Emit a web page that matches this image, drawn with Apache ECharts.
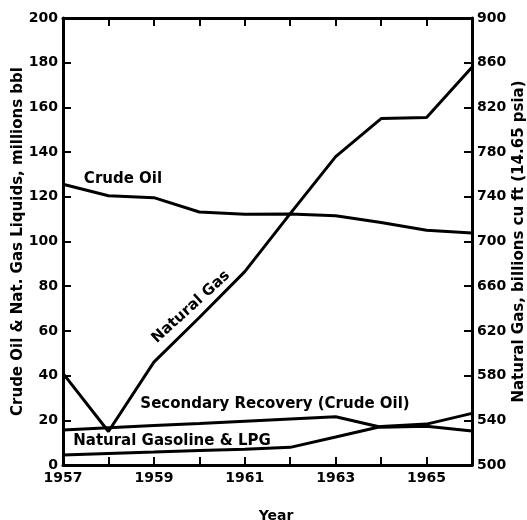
<!DOCTYPE html>
<html><head><meta charset="utf-8">
<script src="https://cdn.jsdelivr.net/npm/echarts@6/dist/echarts.min.js"></script>
<style>html,body{margin:0;padding:0;background:#fff}#c{width:527px;height:520px}</style>
</head><body><div id="c"></div>
<script>
const years = [1957, 1958, 1959, 1960, 1961, 1962, 1963, 1964, 1965, 1966];
const labeledYears = [1957, 1959, 1961, 1963, 1965];
const crudeOil = [125.6, 120.5, 119.6, 113.2, 112.2, 112.3, 111.5, 108.5, 105.0, 103.8];
const secondaryRecovery = [15.7, 16.7, 17.7, 18.6, 19.6, 20.6, 21.6, 16.9, 17.3, 15.2];
const naturalGasolineLPG = [4.5, 5.2, 5.8, 6.5, 7.1, 7.9, 12.5, 17.2, 18.3, 23.1];
const naturalGas = [582, 530, 592, 632, 673, 725, 776, 810, 811, 856];
const leftAxisRange = [0, 200, 20];
const rightAxisRange = [500, 900, 40];

const FONT = 'DejaVu Sans';
const chart = echarts.init(document.getElementById('c'), null, {renderer: 'canvas'});
const pairs = arr => years.map((y, i) => [y, arr[i]]);
const lineSeries = (name, arr, yIdx) => ({
  name, type: 'line', data: pairs(arr), yAxisIndex: yIdx, xAxisIndex: 0,
  symbol: 'none', lineStyle: {color: '#000', width: 3}, silent: true, animation: false
});
const axisCommon = {
  axisLine: {show: true, lineStyle: {color: '#000', width: 3}},
  axisTick: {show: true, inside: true, length: 8, lineStyle: {color: '#000', width: 2}},
  splitLine: {show: false}
};
chart.setOption({
  backgroundColor: '#fff',
  animation: false,
  grid: {left: 63, right: 55, top: 18, bottom: 55, containLabel: false, outerBoundsMode: 'none'},
  xAxis: [
    Object.assign({type: 'value', min: years[0], max: years[years.length - 1], interval: 1, position: 'bottom',
      axisLabel: {color: '#000', fontFamily: FONT, fontWeight: 'bold', fontSize: 14, margin: 6,
        formatter: v => labeledYears.includes(v) ? String(v) : ''}}, axisCommon),
    Object.assign({type: 'value', min: years[0], max: years[years.length - 1], interval: 1, position: 'top',
      axisLabel: {show: false}}, axisCommon)
  ],
  yAxis: [
    Object.assign({type: 'value', min: leftAxisRange[0], max: leftAxisRange[1], interval: leftAxisRange[2], position: 'left',
      name: 'Crude Oil & Nat. Gas Liquids, millions bbl', nameLocation: 'middle', nameRotate: 90, nameGap: 37, nameMoveOverlap: false,
      nameTextStyle: {color: '#000', fontFamily: FONT, fontWeight: 'bold', fontSize: 15},
      axisLabel: {color: '#000', fontFamily: FONT, fontWeight: 'bold', fontSize: 14, margin: 5}}, axisCommon),
    Object.assign({type: 'value', min: rightAxisRange[0], max: rightAxisRange[1], interval: rightAxisRange[2], position: 'right',
      name: 'Natural Gas, billions cu ft (14.65 psia)', nameLocation: 'middle', nameRotate: 90, nameGap: 40, nameMoveOverlap: false,
      nameTextStyle: {color: '#000', fontFamily: FONT, fontWeight: 'bold', fontSize: 15},
      axisLabel: {color: '#000', fontFamily: FONT, fontWeight: 'bold', fontSize: 14, margin: 5}}, axisCommon)
  ],
  series: [
    lineSeries('Crude Oil', crudeOil, 0),
    lineSeries('Secondary Recovery (Crude Oil)', secondaryRecovery, 0),
    lineSeries('Natural Gasoline & LPG', naturalGasolineLPG, 0),
    lineSeries('Natural Gas', naturalGas, 1)
  ],
  graphic: [
    {type: 'text', x: 123, y: 179, style: {text: 'Crude Oil', font: 'bold 15px "DejaVu Sans"', fill: '#000', align: 'center', verticalAlign: 'middle'}},
    {type: 'text', x: 191, y: 307, rotation: 0.74, style: {text: 'Natural Gas', font: 'bold 15px "DejaVu Sans"', fill: '#000', align: 'center', verticalAlign: 'middle'}},
    {type: 'text', x: 275, y: 404, style: {text: 'Secondary Recovery (Crude Oil)', font: 'bold 15px "DejaVu Sans"', fill: '#000', align: 'center', verticalAlign: 'middle'}},
    {type: 'text', x: 172, y: 441, style: {text: 'Natural Gasoline & LPG', font: 'bold 15px "DejaVu Sans"', fill: '#000', align: 'center', verticalAlign: 'middle'}},
    {type: 'text', x: 276, y: 516, style: {text: 'Year', font: 'bold 14px "DejaVu Sans"', fill: '#000', align: 'center', verticalAlign: 'middle'}}
  ]
});
</script></body></html>
